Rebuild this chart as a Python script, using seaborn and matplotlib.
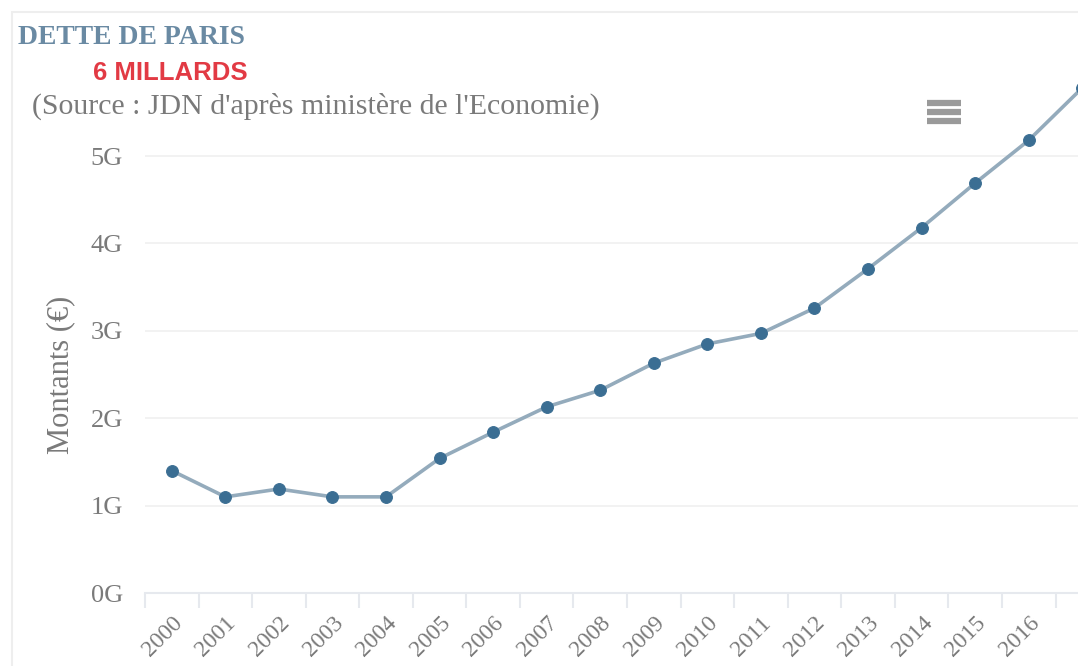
import matplotlib
matplotlib.use("Agg")
import matplotlib.pyplot as plt
import matplotlib.ticker as mticker
from matplotlib.lines import Line2D
from matplotlib.patches import Rectangle
import pandas as pd
import seaborn as sns

# Dette de Paris, en milliards d'euros
years = [2000, 2001, 2002, 2003, 2004, 2005, 2006, 2007, 2008,
         2009, 2010, 2011, 2012, 2013, 2014, 2015, 2016, 2017]
debt_bn = [1.40, 1.10, 1.19, 1.10, 1.10, 1.54, 1.84, 2.13, 2.32,
           2.63, 2.85, 2.97, 3.26, 3.71, 4.18, 4.69, 5.18, 5.78]
tick_years = list(range(2000, 2017))
y_ticks = [0, 1, 2, 3, 4, 5]
y_tick_labels = ["0G", "1G", "2G", "3G", "4G", "5G"]

title_txt = "DETTE DE PARIS"
subtitle_txt = "6 MILLARDS"
source_txt = "(Source : JDN d'après ministère de l'Economie)"
ylabel_txt = "Montants (€)"

df = pd.DataFrame({"annee": years, "dette": debt_bn})

sns.set_theme(style="white")
plt.rcParams["font.family"] = ["Liberation Serif", "DejaVu Serif"]

W, H = 1078, 666
fig = plt.figure(figsize=(W / 100, H / 100), dpi=100)
fig.patch.set_facecolor("white")

# axes placed in pixel terms of the reference
left, right, bottom, top = 145, 1078, 593, 68.6
ax = fig.add_axes([left / W, 1 - bottom / H, (right - left) / W, (bottom - top) / H])

grey_txt = "#7a7a7a"

sns.lineplot(data=df, x="annee", y="dette", ax=ax, color="#94abbc",
             linewidth=2.6, marker="o", markersize=8.5,
             markerfacecolor="#3b6e93", markeredgecolor="#3b6e93")

ax.set_xlim(1999.5, 2016.92)
ax.set_ylim(0, 6)

# y axis
ax.set_yticks(y_ticks)
ax.set_yticklabels(y_tick_labels)
ax.yaxis.grid(True, color="#f0f0f0", linewidth=1.2)
ax.tick_params(axis="y", length=0, pad=16, labelsize=19, labelcolor=grey_txt)
ax.set_ylabel(ylabel_txt, fontsize=22, color=grey_txt)
ax.yaxis.set_label_coords(-70 / (right - left), (bottom - 375) / (bottom - top))

# x axis: labels at years, tick marks between categories
ax.set_xticks(tick_years)
ax.set_xticklabels([str(y) for y in tick_years], rotation=45, ha="right",
                   rotation_mode="anchor")
ax.xaxis.set_minor_locator(mticker.FixedLocator([y - 0.5 for y in tick_years] + [2016.5]))
ax.tick_params(axis="x", which="major", length=0, pad=14, labelsize=17,
               labelcolor=grey_txt)
ax.tick_params(axis="x", which="minor", length=11, width=1.5, color="#e6e9ee",
               bottom=True, direction="out")
ax.set_xlabel("")

for side in ["top", "right", "left"]:
    ax.spines[side].set_visible(False)
ax.spines["bottom"].set_color("#e6e9ee")
ax.spines["bottom"].set_linewidth(1.5)

# titles
fig.text(18 / W, 1 - 38 / H, title_txt, fontsize=20, fontweight="bold",
         color="#6a8aa3", va="center", ha="left")
fig.text(93 / W, 1 - 73 / H, subtitle_txt, fontsize=18.5, fontweight="bold",
         color="#e23a44", va="center", ha="left", family=["Liberation Sans", "DejaVu Sans"])
fig.text(32 / W, 1 - 106 / H, source_txt, fontsize=21.5, color=grey_txt,
         va="center", ha="left")

# export menu icon
for yy in [103, 112, 121]:
    fig.add_artist(Line2D([927 / W, 961 / W], [1 - yy / H, 1 - yy / H],
                          color="#9a9a9a", linewidth=4.5, solid_capstyle="butt"))

# chart frame
fig.add_artist(Rectangle((12 / W, -0.01), 1.1, 1 - 12 / H + 0.01, fill=False,
                         edgecolor="#eeeeee", linewidth=1.5, transform=fig.transFigure))

fig.savefig("out.png", dpi=100)
